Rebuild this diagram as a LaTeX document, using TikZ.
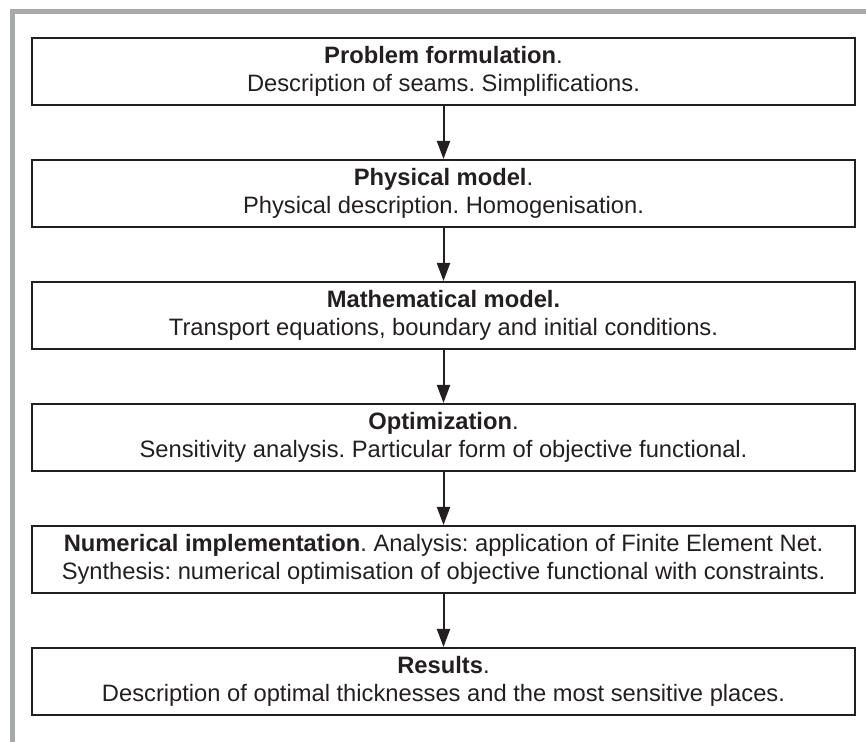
\documentclass[tikz,border=0pt]{standalone}
\usepackage{fontspec}
\setmainfont{Liberation Sans}
\usepackage{tikz}
\usetikzlibrary{arrows.meta,shapes,calc}
\definecolor{ink}{HTML}{231F20}
\definecolor{frame}{HTML}{A7A9AC}
\frenchspacing

\begin{document}
\begin{tikzpicture}[stage/.style={rectangle, draw=ink, text=ink, line width=0.04cm, minimum width=16.46cm, minimum height=1.34cm, align=center, font=\fontsize{13.5}{15.6}\selectfont}]
		\useasboundingbox (0, 0) rectangle (17.32, 14.84);
		\draw[frame, line width=0.1cm] (0.24, 0) -- (0.24, 14.6) -- (17.32, 14.6);

		\path (8.87, 13.41) node[stage] (prob) {\textbf{Problem formulation}.\\Description of seams. Simplifications.}
  		(8.87, 10.97) node[stage] (phys) {\textbf{Physical model}.\\Physical description. Homogenisation.}
  		(8.87, 8.53) node[stage] (math) {\textbf{Mathematical model.}\\Transport equations, boundary and initial conditions.}
  		(8.87, 6.09) node[stage] (optim) {\textbf{Optimization}.\\Sensitivity analysis. Particular form of objective functional.}
  		(8.87, 3.65) node[stage] (numer) {\textbf{Numerical implementation}. Analysis: application of Finite Element Net.\\Synthesis: numerical optimisation of objective functional with constraints.}
  		(8.87, 1.21) node[stage] (res) {\textbf{Results}.\\Description of optimal thicknesses and the most sensitive places.};

		\draw[ink, line width=0.04cm, -{Triangle[length=0.36cm, width=0.26cm]}] (prob) -- (phys);
		\draw[ink, line width=0.04cm, -{Triangle[length=0.36cm, width=0.26cm]}] (phys) -- (math);
		\draw[ink, line width=0.04cm, -{Triangle[length=0.36cm, width=0.26cm]}] (math) -- (optim);
		\draw[ink, line width=0.04cm, -{Triangle[length=0.36cm, width=0.26cm]}] (optim) -- (numer);
		\draw[ink, line width=0.04cm, -{Triangle[length=0.36cm, width=0.26cm]}] (numer) -- (res);
	\end{tikzpicture}
\end{document}
